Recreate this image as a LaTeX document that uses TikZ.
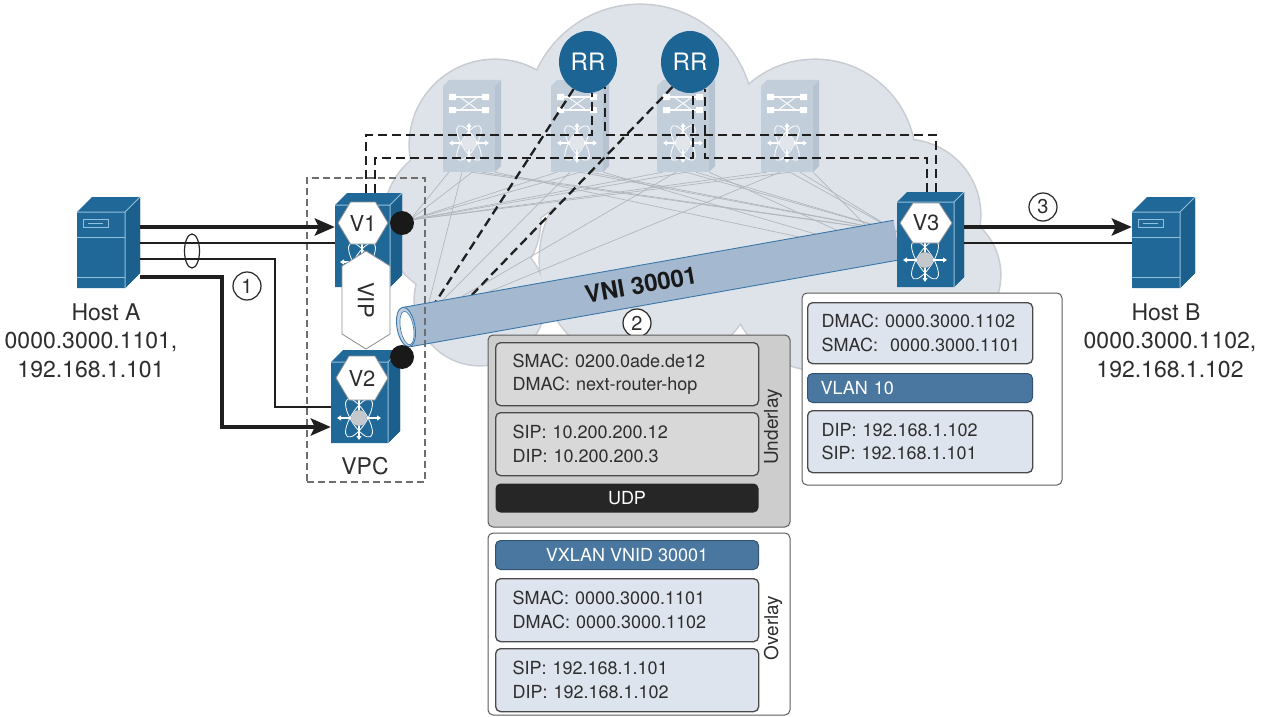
\documentclass[tikz,border=0pt]{standalone}
\usepackage{fontspec}
\setmainfont{TeX Gyre Heros}
\usetikzlibrary{arrows.meta,shapes.geometric}

\definecolor{swblue}{HTML}{1F6898}
\definecolor{swside}{HTML}{1B5F8C}
\definecolor{swedge}{HTML}{93C0DD}
\definecolor{atomgrey}{HTML}{C4C8CC}
\definecolor{cloudfill}{HTML}{DEE3EA}
\definecolor{cloudline}{HTML}{C9CDD3}
\definecolor{spinefill}{HTML}{C3CEDB}
\definecolor{spineside}{HTML}{B7C3D1}
\definecolor{spinecore}{HTML}{E2E6EB}
\definecolor{fabricline}{HTML}{B2B7BE}
\definecolor{tubefill}{HTML}{A4B8D0}
\definecolor{tubeend}{HTML}{C2D0E0}
\definecolor{tubeline}{HTML}{3A77A8}
\definecolor{rrblue}{HTML}{1C6494}
\definecolor{inkgrey}{HTML}{2E2E2E}
\definecolor{hexline}{HTML}{8A8F95}
\definecolor{pktblue}{HTML}{DDE4EE}
\definecolor{pktgrey}{HTML}{D8D8D8}
\definecolor{ulgrey}{HTML}{CDCDCD}
\definecolor{barblue}{HTML}{4A77A0}
\definecolor{udpblack}{HTML}{262626}
\definecolor{boxline}{HTML}{4A4A4A}
\definecolor{vpcline}{HTML}{6E6E6E}

% switch / server body: left, front top, right, bottom, depth
\newcommand{\swbody}[5]{%
  \fill[swblue] (#1,#2) -- ({#1+#5},{#2-#5}) -- ({#3+#5},{#2-#5}) -- ({#3+#5},{#4-#5}) -- (#3,#4) -- (#1,#4) -- cycle;
  \fill[swside] (#3,#2) -- ({#3+#5},{#2-#5}) -- ({#3+#5},{#4-#5}) -- (#3,#4) -- cycle;
  \draw[swedge, line width=1pt, line join=round] (#1,#2) -- (#3,#2) -- (#3,#4) (#3,#2) -- ({#3+#5},{#2-#5});
}
% server front details
\newcommand{\srvbody}[5]{%
  \swbody{#1}{#2}{#3}{#4}{#5}
  \draw[swedge, line width=1pt] ({#1+6},{#2+7}) rectangle ({#1+31},{#2+15});
  \draw[swedge, line width=0.8pt] ({#1+11},{#2+11}) -- ({#1+26},{#2+11});
  \draw[swedge, line width=1pt] (#1,{#2+25}) -- (#3,{#2+25}) (#1,{#4-11}) -- (#3,{#4-11});
}
% nexus "atom" emblem: cx, cy, half size, line colour, core colour
\newcommand{\atomsym}[5]{%
  \draw[#4, line width=0.8pt] (#1,#2) circle[x radius=#3, y radius={0.36*#3}, rotate=58];
  \draw[#4, line width=0.8pt] (#1,#2) circle[x radius=#3, y radius={0.36*#3}, rotate=-58];
  \draw[#4, line width=1.3pt, {Triangle[length=4pt,width=5pt]}-{Triangle[length=4pt,width=5pt]}] ({#1-#3},#2) -- ({#1+#3},#2);
  \draw[#4, line width=1.3pt, {Triangle[length=4pt,width=5pt]}-{Triangle[length=4pt,width=5pt]}] (#1,{#2-#3}) -- (#1,{#2+#3});
  \fill[#5] (#1,#2) circle[radius={0.36*#3}];
}
% flat-topped hexagon: cx, cy, half width, half height
\newcommand{\hexa}[4]{%
  \filldraw[fill=white, draw=hexline, line width=0.8pt] ({#1-#3},#2) -- ({#1-0.5*#3},{#2-#4}) -- ({#1+0.5*#3},{#2-#4}) -- ({#1+#3},#2) -- ({#1+0.5*#3},{#2+#4}) -- ({#1-0.5*#3},{#2+#4}) -- cycle;}
% faded spine switch inside the fabric cloud
\newcommand{\spinesym}[1]{%
  \fill[spineside] ({#1+23},86) -- ({#1+29},80) -- ({#1+29},166) -- ({#1+23},172) -- cycle;
  \fill[spinefill] ({#1-29},86) -- ({#1-23},80) -- ({#1+29},80) -- ({#1+23},86) -- cycle;
  \fill[spinefill] ({#1-29},86) rectangle ({#1+23},172);
  \draw[white, line width=1.4pt] ({#1-20},97) -- ({#1+14},97) ({#1-20},110) -- ({#1+14},110);
  \draw[white, line width=0.9pt] ({#1-12},97) -- ({#1+6},110) ({#1-12},110) -- ({#1+6},97);
  \fill[white] ({#1-23},94) rectangle ({#1-16},100) ({#1+10},94) rectangle ({#1+17},100)
               ({#1-23},107) rectangle ({#1-16},113) ({#1+10},107) rectangle ({#1+17},113);
  \atomsym{#1-3}{143}{20}{white}{spinecore}
}

\tikzset{
  hostthick/.style={line width=4.5pt, draw=black!88},
  hostthin/.style={line width=2.2pt, draw=black!88},
  bigtip/.style={-{Stealth[length=20pt,width=17pt,inset=4pt]}},
  ctrl/.style={line width=2.3pt, draw=black!88, dash pattern=on 9pt off 5pt},
  fabric/.style={line width=0.7pt, draw=fabricline},
  anchorbox/.style={inner sep=0pt, draw=none},
  hexlbl/.style={font=\fontsize{22}{22}\selectfont, text=inkgrey, inner sep=0pt},
  hostlbl/.style={font=\fontsize{23}{29}\selectfont, text=inkgrey, align=center},
  numcirc/.style={circle, draw=black!85, line width=1.2pt, fill=white, minimum size=28pt, inner sep=0pt, font=\fontsize{20}{20}\selectfont, text=inkgrey},
  rr/.style={ellipse, fill=rrblue, minimum width=58pt, minimum height=62pt, inner sep=0pt, text=white, font=\fontsize{24}{24}\selectfont},
  pktouter/.style={rounded corners=5pt, draw=boxline!90, line width=1pt},
  pktinner/.style={rounded corners=5pt, draw=boxline, line width=1.3pt, anchor=north west, align=left, text width=229pt, inner xsep=17pt, inner ysep=0pt, minimum height=63pt, font=\fontsize{18}{23.5}\selectfont, text=inkgrey},
  pktbar/.style={rounded corners=5pt, line width=1pt, anchor=north west, minimum width=263pt, minimum height=29pt, inner sep=0pt, text=white, font=\fontsize{18}{18}\selectfont},
  sidelbl/.style={rotate=90, font=\fontsize{19}{19}\selectfont, text=inkgrey},
}

\begin{document}
\begin{tikzpicture}[x=1pt,y=-1pt]
\useasboundingbox (0,0) rectangle (1267,717);
\fill[white] (0,0) rectangle (1267,717);

% ---- fabric cloud
\def\cloudparts{640/118/113, 495/145/85, 462/220/78, 815/160/100, 905/215/75, 935/275/65, 480/300/65, 650/260/110, 820/280/90}
\foreach \cx/\cy/\r in \cloudparts {\fill[cloudline] (\cx,\cy) circle[radius=\r+1.6];}
\foreach \cx/\cy/\r in \cloudparts {\fill[cloudfill] (\cx,\cy) circle[radius=\r];}

% ---- reference nodes for the devices
\node[anchorbox, minimum width=63pt, minimum height=91pt] (HostA) at (108.5,242.5) {};
\node[anchorbox, minimum width=63pt, minimum height=91pt] (HostB) at (1163.5,242.5) {};
\node[anchorbox, minimum width=67pt, minimum height=94pt] (V1) at (368.5,240) {};
\node[anchorbox, minimum width=69pt, minimum height=93pt] (V2) at (365.5,396.5) {};
\node[anchorbox, minimum width=67pt, minimum height=95pt] (V3) at (930.5,239.5) {};
\foreach \i/\x in {1/472,2/580,3/686,4/790}
  \node[anchorbox, minimum width=58pt, minimum height=92pt] (S\i) at (\x,126) {};
\coordinate (fabA) at (410,220);
\coordinate (fabB) at (425,318);
\coordinate (fabC) at (898,232);
\coordinate (fabD) at (898,258);

% ---- spine-leaf links
\foreach \i in {1,...,4} {
  \draw[fabric] ([xshift=6pt]S\i.south west) -- (fabA);
  \draw[fabric] ([xshift=-10pt]S\i.south) -- (fabB);
  \draw[fabric] ([xshift=10pt]S\i.south) -- (fabC);
  \draw[fabric] ([xshift=-6pt]S\i.south east) -- (fabD);
  \draw[fabric] (S\i.south) -- (fabA);
  \draw[fabric] (S\i.south) -- (fabC);
}
\foreach \x in {472,580,686,790} {\spinesym{\x}}

% ---- route reflectors and BGP sessions
\node[rr] (RR1) at (588,62) {RR};
\node[rr] (RR2) at (690,62) {RR};
\draw[ctrl] ([xshift=-2.5pt]V1.north) -- ++(0,-58) -| (RR1.-82);
\draw[ctrl] ([xshift=5.5pt]V3.north) -- ++(0,-57) -| (RR1.-56);
\draw[ctrl] ([xshift=6.5pt]V1.north) -- ++(0,-35) -| (RR2.-84);
\draw[ctrl] ([xshift=-3.5pt]V3.north) -- ++(0,-34) -| (RR2.-61);
\coordinate (tubeA) at (433,306);
\coordinate (tubeB) at (467,300);
\draw[ctrl] (RR1.-118) -- (tubeA);
\draw[ctrl] (RR2.-125) -- (tubeB);

% ---- VXLAN tunnel
\fill[tubefill] (403.5,307.3) -- (893.5,220.3) -- (900.5,259.7) -- (410.5,346.7) -- cycle;
\draw[tubeline, line width=0.9pt] (403.5,307.3) -- (893.5,220.3) (900.5,259.7) -- (410.5,346.7);
\filldraw[fill=tubeend, draw=tubeline, line width=0.9pt, rotate around={10:(406,327)}] (406,327) circle[x radius=9, y radius=20];
\filldraw[fill=white, draw=tubeline, line width=0.6pt, rotate around={10:(407,328)}] (407,328) circle[x radius=6.5, y radius=17];
\node[font=\bfseries\fontsize{24}{24}\selectfont, text=black!90, rotate=10] (vni) at (641,285) {VNI 30001};

% ---- vPC domain
\node[anchorbox, draw=vpcline, line width=1.3pt, dash pattern=on 7pt off 4pt, minimum width=118pt, minimum height=304pt] (VPC) at (366,330) {};
\node[hostlbl] (vpclbl) at (365,466) {VPC};

% ---- leaf switches
\swbody{335}{205}{390}{287}{12}
\atomsym{362}{262}{22}{white}{atomgrey}
\swbody{331}{362}{388}{443}{12}
\atomsym{359}{418}{22}{white}{atomgrey}
\filldraw[fill=white, draw=hexline, line width=0.8pt] (366,251) -- (390,266) -- (390,334) -- (366,349) -- (342,334) -- (342,266) -- cycle;
\node[hexlbl, rotate=-90] (vip) at (366,300) {VIP};
\hexa{363}{223}{25}{21}
\node[hexlbl] (v1lbl) at (363,223) {V1};
\hexa{362}{378}{26}{22}
\node[hexlbl] (v2lbl) at (362,378) {V2};
\node[circle, fill=black!90, minimum size=24pt, inner sep=0pt] (D1) at (402,223) {};
\node[circle, fill=black!90, minimum size=24pt, inner sep=0pt] (D2) at (402,357) {};

\swbody{897}{202}{954}{287}{10}
\atomsym{925}{260}{22}{white}{atomgrey}
\hexa{926}{223}{26}{20}
\node[hexlbl] (v3lbl) at (926,223) {V3};

% ---- hosts
\srvbody{77}{212}{125}{288}{15}
\srvbody{1132}{212}{1180}{288}{15}
\node[hostlbl] (hostAname) at (106,312) {Host A};
\node[hostlbl] (hostAaddr) at (91,355) {0000.3000.1101,\\192.168.1.101};
\node[hostlbl] (hostBname) at (1166,312) {Host B};
\node[hostlbl] (hostBaddr) at (1170,355) {0000.3000.1102,\\192.168.1.102};

% ---- access links
\draw[hostthick, bigtip] (HostA.east |- 0,227) -- (V1.west |- 0,227);
\draw[hostthin] (HostA.east |- 0,243) -- (V1.west |- 0,243);
\draw[hostthin] (HostA.east |- 0,259) -- (275,259) |- (V2.west |- 0,407);
\draw[hostthick, bigtip] (HostA.east |- 0,277) -- (222,277) |- (V2.west |- 0,427);
\draw[black!85, line width=1.2pt] (192,251) circle[x radius=7.5, y radius=17];
\draw[hostthick, bigtip] (V3.east |- 0,227) -- (HostB.west |- 0,227);
\draw[hostthin] (V3.east |- 0,243) -- (HostB.west |- 0,243);

% ---- step markers
\node[numcirc] (n1) at (247,286) {1};
\node[numcirc] (n2) at (637,323) {2};
\node[numcirc] (n3) at (1043,207) {3};

% ---- encapsulated frame: underlay
\filldraw[pktouter, fill=ulgrey] (488,335) rectangle (790,527);
\node[pktinner, fill=pktgrey] (ulmac) at (495,342) {SMAC: 0200.0ade.de12\\DMAC: next-router-hop};
\node[pktinner, fill=pktgrey] (ulip) at (495,412) {SIP: 10.200.200.12\\DIP: 10.200.200.3};
\node[pktbar, fill=udpblack] (udp) at (495,483) {UDP};
\node[sidelbl] (ullbl) at (773,427) {Underlay};

% ---- encapsulated frame: overlay
\filldraw[pktouter, fill=white] (488,533) rectangle (790,715);
\node[pktbar, fill=barblue, draw=barblue!70!black] (vnid) at (495,540) {VXLAN VNID 30001};
\node[pktinner, fill=pktblue] (olmac) at (495,578) {SMAC: 0000.3000.1101\\DMAC: 0000.3000.1102};
\node[pktinner, fill=pktblue] (olip) at (495,648) {SIP: 192.168.1.101\\DIP: 192.168.1.102};
\node[sidelbl] (ollbl) at (773,628) {Overlay};

% ---- decapsulated frame at the egress leaf
\filldraw[pktouter, fill=white] (802,293) rectangle (1062,485);
\node[pktinner, fill=pktblue, text width=197pt, inner xsep=14pt, minimum height=61pt] (egmac) at (807,302) {DMAC: 0000.3000.1102\\SMAC:~ 0000.3000.1101};
\node[pktbar, fill=barblue, draw=barblue!70!black, minimum width=225pt, text width=199pt, inner xsep=13pt, align=left] (vlan) at (807,373) {VLAN 10};
\node[pktinner, fill=pktblue, text width=197pt, inner xsep=14pt, minimum height=62pt] (egip) at (807,410) {DIP: 192.168.1.102\\SIP: 192.168.1.101};
\end{tikzpicture}
\end{document}
